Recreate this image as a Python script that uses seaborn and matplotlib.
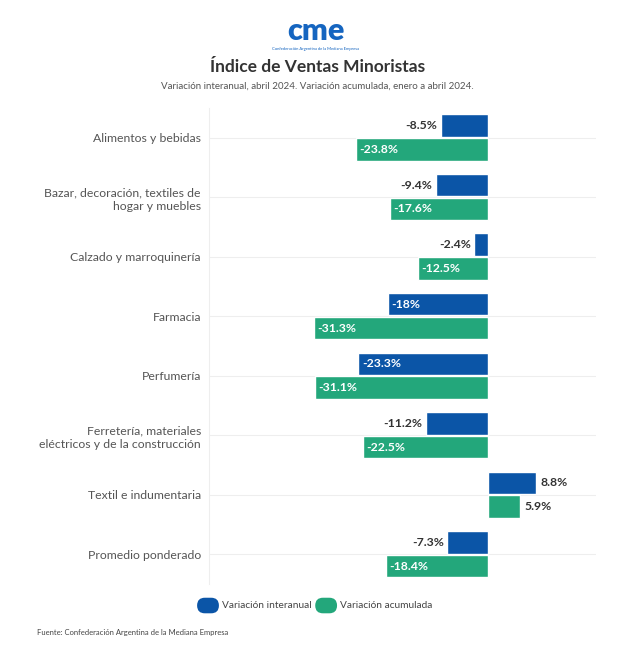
import numpy as np
import pandas as pd
import seaborn as sns
import matplotlib
matplotlib.use("Agg")
import matplotlib.pyplot as plt
from matplotlib.patches import FancyBboxPatch

sns.set_theme(style="white")
plt.rcParams["font.family"] = ["Lato", "DejaVu Sans"]

# Data
categories = [
    "Alimentos y bebidas",
    "Bazar, decoración, textiles de\nhogar y muebles",
    "Calzado y marroquinería",
    "Farmacia",
    "Perfumería",
    "Ferretería, materiales\neléctricos y de la construcción",
    "Textil e indumentaria",
    "Promedio ponderado",
]
interanual = [-8.5, -9.4, -2.4, -18.0, -23.3, -11.2, 8.8, -7.3]
acumulada = [-23.8, -17.6, -12.5, -31.3, -31.1, -22.5, 5.9, -18.4]
series_names = ["Variación interanual", "Variación acumulada"]

BLUE = "#0b55a7"
GREEN = "#23a77b"

df = pd.DataFrame({
    "categoria": categories * 2,
    "valor": interanual + acumulada,
    "serie": [series_names[0]] * len(categories) + [series_names[1]] * len(categories),
})

fig = plt.figure(figsize=(6.42, 6.49), dpi=100)
ax = fig.add_axes([0.326, 0.100, 0.602, 0.734])

sns.barplot(data=df, y="categoria", x="valor", hue="serie", orient="h",
            palette=[BLUE, GREEN], width=0.8, gap=0.06, saturation=1,
            legend=False, ax=ax)

ax.set_xlim(-50.2, 19.5)
ax.set_ylim(len(categories) - 0.5, -0.5)
ax.set_xlabel("")
ax.set_ylabel("")
ax.set_xticks([])
ax.tick_params(axis="y", length=0, pad=6, labelsize=8.8, labelcolor="#555555")
for lbl in ax.get_yticklabels():
    lbl.set_linespacing(1.35)

# faint gridlines at category centers and left border
for i in range(len(categories)):
    ax.axhline(i, color="#eeeeee", lw=0.8, zorder=0)
for s in ["top", "right", "bottom"]:
    ax.spines[s].set_visible(False)
ax.spines["left"].set_color("#eeeeee")
ax.spines["left"].set_linewidth(0.8)

# value labels
for cont in ax.containers:
    for bar in cont:
        v = bar.get_width()
        yc = bar.get_y() + bar.get_height() / 2
        txt = f"{v:g}%"
        if v < 0 and abs(v) > 12:
            ax.text(v + 0.6, yc, txt, ha="left", va="center", color="white",
                    fontsize=8.8, fontweight="bold")
        elif v < 0:
            ax.text(v - 0.6, yc, txt, ha="right", va="center", color="#333333",
                    fontsize=8.8, fontweight="bold")
        else:
            ax.text(v + 0.8, yc, txt, ha="left", va="center", color="#333333",
                    fontsize=8.8, fontweight="bold")

# header: logo + title
fig.text(0.492, 0.952, "cme", ha="center", va="center", fontsize=22,
         fontweight="heavy", color="#1565c0")
fig.text(0.492, 0.924, "Confederación Argentina de la Mediana Empresa", ha="center",
         va="center", fontsize=3, color="#1565c0")
fig.text(0.495, 0.897, "Índice de Ventas Minoristas", ha="center", va="center",
         fontsize=12.5, fontweight="bold", color="#333333")
fig.text(0.495, 0.867, "Variación interanual, abril 2024. Variación acumulada, enero a abril 2024.",
         ha="center", va="center", fontsize=7, color="#555555")

# legend with pill markers
legend_items = [(0.307, BLUE, series_names[0]), (0.491, GREEN, series_names[1])]
for x0, col, lab in legend_items:
    pill = FancyBboxPatch((x0, 0.055), 0.034, 0.024,
                          boxstyle="round,pad=0,rounding_size=0.012",
                          transform=fig.transFigure, facecolor=col,
                          edgecolor="none", mutation_aspect=1)
    fig.patches.append(pill)
    fig.text(x0 + 0.039, 0.067, lab, ha="left", va="center", fontsize=7.3,
             color="#444444")

fig.text(0.058, 0.026, "Fuente: Confederación Argentina de la Mediana Empresa",
         ha="left", va="center", fontsize=5.5, color="#444444")

fig.savefig("out.png", dpi=100)
